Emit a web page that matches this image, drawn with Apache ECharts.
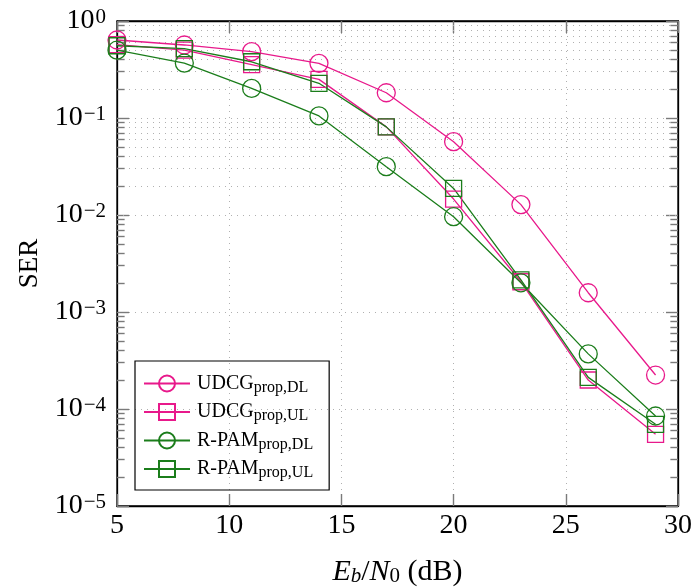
<!DOCTYPE html>
<html>
<head>
<meta charset="utf-8">
<script src="https://cdn.jsdelivr.net/npm/echarts@6/dist/echarts.min.js"></script>
<style>
  html, body { margin: 0; padding: 0; background: #ffffff; }
  #chart { width: 696px; height: 588px; }
</style>
</head>
<body>
<div id="chart"></div>
<script>
// Eb/N0 sweep (dB)
const ebn0 = [5, 8, 11, 14, 17, 20, 23, 26, 29];

// Symbol error rate per scheme
const udcgDL = [0.637, 0.566, 0.483, 0.366, 0.182, 0.057, 0.0128, 0.00158, 0.000224];
const udcgUL = [0.57, 0.50, 0.355, 0.25, 0.081, 0.0146, 0.00205, 0.000199, 0.0000548];
const rpamDL = [0.50, 0.368, 0.202, 0.105, 0.0315, 0.0096, 0.0020, 0.00037, 0.0000847];
const rpamUL = [0.556, 0.52, 0.38, 0.228, 0.081, 0.0188, 0.00214, 0.000212, 0.0000695];

// Axis ranges and tick marks
const xTicks = [5, 10, 15, 20, 25, 30];
const yDecades = [-5, -4, -3, -2, -1, 0];
const minorMantissas = [2, 3, 4, 5, 6, 7, 8, 9];

const PINK = '#e8198b';
const GREEN = '#1b7d1b';
const SERIF = '"Liberation Serif", "DejaVu Serif", serif';

const legendRich = {
  main: { fontFamily: SERIF, fontSize: 20, color: '#000', lineHeight: 24 },
  sub: { fontFamily: SERIF, fontSize: 16, color: '#000', lineHeight: 6, verticalAlign: 'bottom' }
};
const legendText = {
  'UDCG DL': '{main|UDCG}{sub|prop,DL}',
  'UDCG UL': '{main|UDCG}{sub|prop,UL}',
  'R-PAM DL': '{main|R-PAM}{sub|prop,DL}',
  'R-PAM UL': '{main|R-PAM}{sub|prop,UL}'
};

function pairs(ys) {
  return ebn0.map((x, i) => [x, ys[i]]);
}

function curve(name, ys, color, symbol, size) {
  return {
    name: name,
    type: 'line',
    data: pairs(ys),
    symbol: symbol,
    symbolSize: size,
    showAllSymbol: true,
    lineStyle: { color: color, width: 1.3 },
    itemStyle: { color: 'none', borderColor: color, borderWidth: 1.3 },
    emphasis: { disabled: true },
    z: 5
  };
}

// Minor log grid lines and minor ticks on both vertical edges
const minorValues = [];
yDecades.slice(0, -1).forEach(d => {
  minorMantissas.forEach(m => minorValues.push(m * Math.pow(10, d)));
});
const tickSpan = 0.34;
const xMin = xTicks[0], xMax = xTicks[xTicks.length - 1];
const minorGrid = minorValues.map(v => ({ yAxis: v }));
const minorTicks = [];
minorValues.forEach(v => {
  minorTicks.push([{ coord: [xMin, v] }, { coord: [xMin + tickSpan, v] }]);
  minorTicks.push([{ coord: [xMax - tickSpan, v] }, { coord: [xMax, v] }]);
});

const helper = {
  name: 'minor',
  type: 'line',
  data: [],
  silent: true,
  markLine: {
    silent: true,
    symbol: ['none', 'none'],
    label: { show: false },
    animation: false,
    data: minorGrid.map(d => Object.assign({}, d, {
      lineStyle: { color: '#b0b0b0', width: 1, type: [1, 5] }
    })).concat(minorTicks.map(p => [
      Object.assign({}, p[0], { lineStyle: { color: '#7a7a7a', width: 1.4, type: 'solid' } }),
      p[1]
    ]))
  }
};

function expLabel(v) {
  const e = Math.round(Math.log10(v));
  const s = e < 0 ? '\u2212' + (-e) : String(e);
  return '{b|10}{e|' + s + '}';
}

const dotted = { show: true, lineStyle: { color: '#b0b0b0', width: 1, type: [1, 5] } };

const option = {
  animation: false,
  backgroundColor: '#ffffff',
  grid: {
    left: 117, right: 18, top: 21, bottom: 82,
    outerBoundsMode: 'none',
    containLabel: false,
    show: true, borderColor: '#000', borderWidth: 1.3, backgroundColor: 'transparent'
  },
  legend: {
    data: ['UDCG DL', 'UDCG UL', 'R-PAM DL', 'R-PAM UL'],
    orient: 'vertical',
    left: 135, top: 361,
    padding: [12, 16, 9, 8],
    itemWidth: 46, itemHeight: 20, itemGap: 6,
    borderColor: '#000', borderWidth: 1.2, backgroundColor: 'transparent',
    selectedMode: false,
    formatter: n => legendText[n],
    textStyle: { rich: legendRich, padding: [0, 0, 0, 2] }
  },
  xAxis: [
    {
      type: 'value', min: xMin, max: xMax, interval: 5,
      name: '{i|E}{is|b}{n|/}{i|N}{s|0}{n| (dB)}',
      nameLocation: 'middle', nameGap: 51,
      nameTextStyle: {
        rich: {
          i: { fontFamily: SERIF, fontStyle: 'italic', fontSize: 30, color: '#000', lineHeight: 30 },
          is: { fontFamily: SERIF, fontStyle: 'italic', fontSize: 21, color: '#000', lineHeight: 8, verticalAlign: 'bottom' },
          s: { fontFamily: SERIF, fontSize: 21, color: '#000', lineHeight: 8, verticalAlign: 'bottom' },
          n: { fontFamily: SERIF, fontSize: 30, color: '#000', lineHeight: 30 }
        }
      },
      axisLine: { show: true, lineStyle: { color: '#000', width: 1.3 } },
      axisTick: { show: true, inside: true, length: 12, lineStyle: { color: '#7a7a7a', width: 1.4 } },
      axisLabel: { fontFamily: SERIF, fontSize: 28, color: '#000', margin: 6 },
      splitLine: dotted
    },
    {
      type: 'value', min: xMin, max: xMax, interval: 5, position: 'top',
      axisLine: { show: true, lineStyle: { color: '#000', width: 1.3 } },
      axisTick: { show: true, inside: true, length: 12, lineStyle: { color: '#7a7a7a', width: 1.4 } },
      axisLabel: { show: false },
      splitLine: { show: false }
    }
  ],
  yAxis: [
    {
      type: 'log', logBase: 10, min: 1e-5, max: 1,
      name: 'SER', nameLocation: 'middle', nameGap: 73, nameRotate: 90,
      nameTextStyle: { fontFamily: SERIF, fontSize: 27, color: '#000' },
      axisLine: { show: true, lineStyle: { color: '#000', width: 1.3 } },
      axisTick: { show: true, inside: true, length: 12, lineStyle: { color: '#7a7a7a', width: 1.4 } },
      axisLabel: {
        margin: 11,
        formatter: expLabel,
        rich: {
          b: { fontFamily: SERIF, fontSize: 28, color: '#000', lineHeight: 28 },
          e: { fontFamily: SERIF, fontSize: 21, color: '#000', lineHeight: 12, verticalAlign: 'top', padding: [0, 0, 0, 1] }
        }
      },
      splitLine: dotted
    },
    {
      type: 'log', logBase: 10, min: 1e-5, max: 1, position: 'right',
      axisLine: { show: true, lineStyle: { color: '#000', width: 1.3 } },
      axisTick: { show: true, inside: true, length: 12, lineStyle: { color: '#7a7a7a', width: 1.4 } },
      axisLabel: { show: false },
      splitLine: { show: false }
    }
  ],
  series: [
    helper,
    curve('UDCG DL', udcgDL, PINK, 'circle', 18),
    curve('UDCG UL', udcgUL, PINK, 'rect', 16),
    curve('R-PAM DL', rpamDL, GREEN, 'circle', 18),
    curve('R-PAM UL', rpamUL, GREEN, 'rect', 16)
  ]
};

const chart = echarts.init(document.getElementById('chart'), null, { renderer: 'canvas' });
chart.setOption(option);
</script>
</body>
</html>
